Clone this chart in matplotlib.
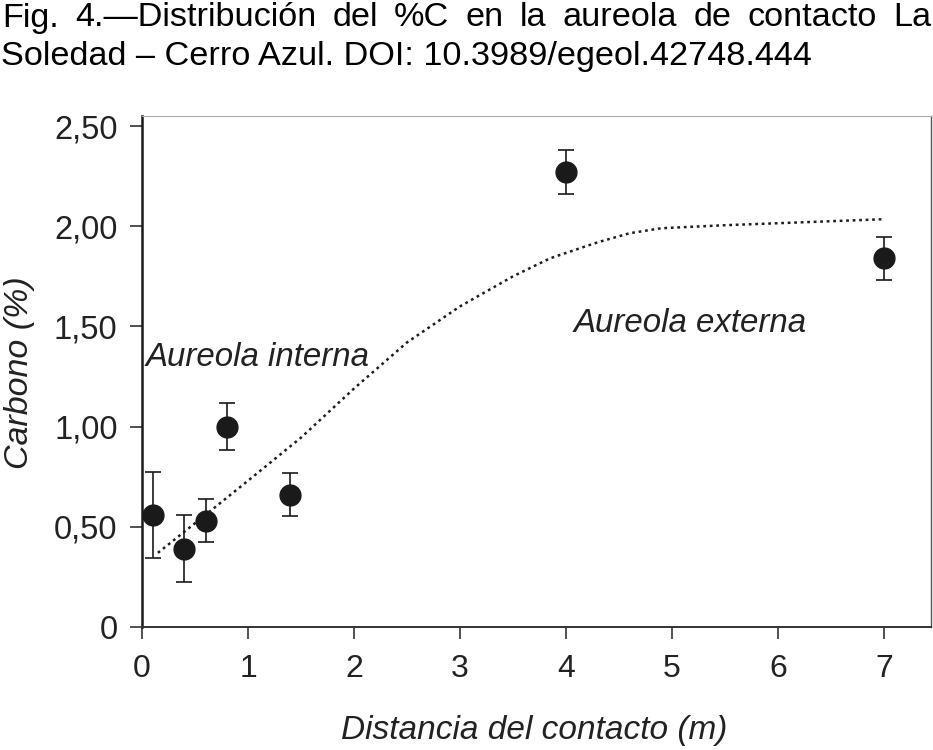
import matplotlib
matplotlib.use("Agg")
import matplotlib.pyplot as plt

# datos
distancia = [0.1, 0.4, 0.6, 0.8, 1.4, 4.0, 7.0]
carbono = [0.56, 0.39, 0.53, 1.00, 0.66, 2.27, 1.84]
error = [0.215, 0.167, 0.107, 0.116, 0.107, 0.108, 0.108]

curva_x = [0.15, 0.6, 1.0, 1.5, 2.0, 2.5, 3.0, 3.5, 3.85, 4.3, 4.6, 4.9, 5.5, 6.0, 7.0]
curva_y = [0.37, 0.56, 0.73, 0.945, 1.19, 1.42, 1.60, 1.75, 1.84, 1.92, 1.965, 1.99, 2.005, 2.015, 2.035]

xticks = [0, 1, 2, 3, 4, 5, 6, 7]
yticks = [0, 0.5, 1.0, 1.5, 2.0, 2.5]
ylabels = ["0", "0,50", "1,00", "1,50", "2,00", "2,50"]

titulo1 = ["Fig.", "4.\u2014Distribución", "del", "%C", "en", "la", "aureola", "de", "contacto", "La"]
titulo2 = "Soledad \u2013 Cerro Azul. DOI: 10.3989/egeol.42748.444"

plt.rcParams["font.family"] = ["Liberation Sans", "DejaVu Sans"]

W, H = 933, 750
fig = plt.figure(figsize=(W / 100, H / 100), dpi=100)


def fx(px):
    return px / W


def fy(py):
    return 1 - py / H


ax = fig.add_axes([fx(142), fy(627), (931 - 142) / W, (627 - 116) / H])

ax.plot(curva_x, curva_y, color="#1e1e1e", lw=1.8, linestyle=(0, (1.1, 1.5)))
ax.errorbar(distancia, carbono, yerr=error, fmt="o", color="#1a1a1a",
            markersize=15, ecolor="#1a1a1a", elinewidth=1.2, capsize=6,
            capthick=1.2, zorder=3)

ax.set_xlim(0, 7.443)
ax.set_ylim(0, 2.55)
ax.set_xticks(xticks)
ax.set_xticklabels([str(t) for t in xticks], fontsize=23, color="#222222")
ax.set_yticks(yticks)
ax.set_yticklabels(ylabels, fontsize=23.5, color="#222222")
ax.tick_params(axis="both", direction="out", length=8.6, width=1.1, color="#222222")
ax.tick_params(axis="y", pad=9)
ax.tick_params(axis="x", pad=11)

ax.spines["left"].set_linewidth(1.8)
ax.spines["left"].set_color("#1a1a1a")
ax.spines["bottom"].set_linewidth(1.4)
ax.spines["bottom"].set_color("#333333")
ax.spines["top"].set_linewidth(0.8)
ax.spines["top"].set_color("#aaaaaa")
ax.spines["right"].set_linewidth(1.0)
ax.spines["right"].set_color("#555555")

fig.text(fx(20), fy(373), "Carbono (%)", rotation=90, ha="center", va="center",
         fontsize=24.5, style="italic", color="#222222")
fig.text(fx(534), fy(730), "Distancia del contacto (m)", ha="center", va="center",
         fontsize=24, style="italic", color="#222222")

fig.text(fx(146), fy(366), "Aureola interna", ha="left", va="baseline",
         fontsize=23.8, style="italic", color="#222222")
fig.text(fx(574), fy(332), "Aureola externa", ha="left", va="baseline",
         fontsize=23.8, style="italic", color="#222222")

# titulo: primera linea justificada
fig.canvas.draw()
renderer = fig.canvas.get_renderer()
palabras = []
anchos = []
for p in titulo1:
    t = fig.text(0, fy(26.5), p, fontsize=24.7, va="baseline", ha="left")
    palabras.append(t)
    anchos.append(t.get_window_extent(renderer).width)
hueco = (931 - 2 - sum(anchos)) / (len(titulo1) - 1)
x = 2
for t, a in zip(palabras, anchos):
    t.set_x(fx(x))
    x += a + hueco

fig.text(fx(1), fy(65.5), titulo2, fontsize=24.7, va="baseline", ha="left")

fig.savefig("out.png", dpi=100)
